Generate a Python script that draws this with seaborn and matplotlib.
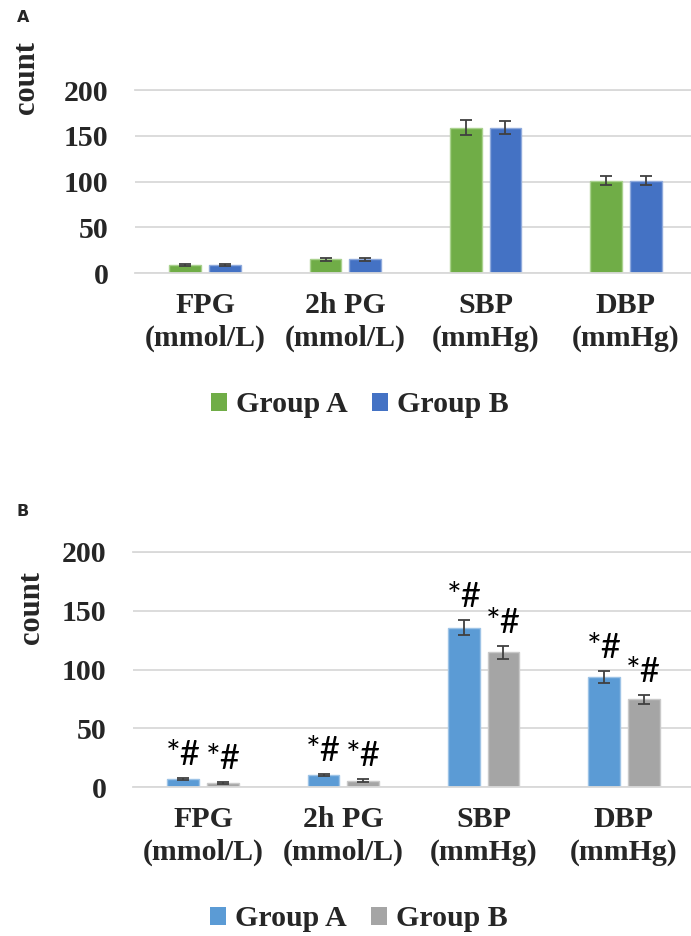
import pandas as pd
import matplotlib.pyplot as plt
import seaborn as sns

# values (mean and error bar half-length)
categories = ['FPG\n(mmol/L)', '2h PG\n(mmol/L)', 'SBP\n(mmHg)', 'DBP\n(mmHg)']
groups = ['Group A', 'Group B']

before_a = [9, 15, 159, 101]
before_a_err = [1, 1.5, 8, 5]
before_b = [9, 15, 159, 101]
before_b_err = [1, 1.5, 7.5, 5]

after_a = [7, 10, 135.5, 93.5]
after_a_err = [1, 1, 6.5, 5]
after_b = [3.2, 5.5, 114.5, 74.5]
after_b_err = [1, 1, 5.5, 4]

yticks = [0, 50, 100, 150, 200]
marks = '*#'

SERIF = 'Liberation Serif'
GRID = '#D9D9D9'


def make_df(vals_a, vals_b):
    return pd.DataFrame({
        'cat': categories * 2,
        'group': [groups[0]] * 4 + [groups[1]] * 4,
        'value': list(vals_a) + list(vals_b),
    })


def draw_panel(fig, rect, vals_a, err_a, vals_b, err_b, colors, edges,
               legend_xy, count_xy, letter, letter_xy, annotate=False):
    ax = fig.add_axes(rect)
    df = make_df(vals_a, vals_b)
    sns.barplot(data=df, x='cat', y='value', hue='group', palette=colors,
                saturation=1, width=0.565, gap=0.2, errorbar=None, ax=ax,
                legend=False)
    # error bars on top of each bar
    for cont, errs, ec in zip(ax.containers, [err_a, err_b], edges):
        for bar, e in zip(cont, errs):
            bar.set_edgecolor(ec)
            bar.set_linewidth(1.0)
            xc = bar.get_x() + bar.get_width() / 2
            h = bar.get_height()
            ax.errorbar(xc, h, yerr=e, color='#404040', capsize=4.5,
                        capthick=1.3, elinewidth=1.3, zorder=5)
            if annotate:
                ax.annotate(marks, (xc, h + e), xytext=(0, 5),
                            textcoords='offset points', ha='center',
                            va='bottom', fontsize=25, family='Lato',
                            color='black')
    ax.set_ylim(0, 200)
    ax.set_xlim(-0.5, 3.5)
    ax.set_yticks(yticks)
    ax.set_axisbelow(True)
    ax.grid(axis='y', color=GRID, linewidth=1.3)
    ax.grid(axis='x', visible=False)
    for s in ['left', 'right']:
        ax.spines[s].set_visible(False)
    for s in ['top', 'bottom']:
        ax.spines[s].set_color(GRID)
        ax.spines[s].set_linewidth(1.3)
    ax.tick_params(axis='both', length=0)
    ax.tick_params(axis='y', pad=19)
    ax.tick_params(axis='x', pad=14)
    ax.set_xlabel('')
    ax.set_ylabel('')
    for lab in ax.get_yticklabels() + ax.get_xticklabels():
        lab.set_family(SERIF)
        lab.set_fontweight('bold')
        lab.set_fontsize(21.5)
    for lab in ax.get_xticklabels():
        lab.set_linespacing(1.25)

    handles = [plt.Rectangle((0, 0), 1, 1, facecolor=c, edgecolor='none') for c in colors]
    ax.legend(handles, groups, loc='center', bbox_to_anchor=legend_xy,
              bbox_transform=fig.transFigure, ncol=2, frameon=False,
              prop={'family': SERIF, 'weight': 'bold', 'size': 21.5},
              handlelength=0.55, handleheight=0.55, handletextpad=0.3,
              columnspacing=0.8)

    fig.text(count_xy[0], count_xy[1], 'count', rotation=90, ha='center',
             va='center', family=SERIF, fontweight='bold', fontsize=22)
    fig.text(letter_xy[0], letter_xy[1], letter, ha='left', va='center',
             family='DejaVu Sans', fontweight='bold', fontsize=11.5)
    return ax


sns.set_style('white')
fig = plt.figure(figsize=(6.91, 9.36), dpi=100)
W, H = 691, 936

draw_panel(fig, [135 / W, 1 - 273 / H, 561 / W, 183 / H],
           before_a, before_a_err, before_b, before_b_err,
           ['#70AD47', '#4472C4'], ['#A9D18E', '#8FAADC'],
           (360 / W, 1 - 405 / H), (27 / W, 1 - 78 / H),
           'A', (17 / W, 1 - 17 / H))

draw_panel(fig, [133 / W, 1 - 787 / H, 561 / W, 235 / H],
           after_a, after_a_err, after_b, after_b_err,
           ['#5B9BD5', '#A5A5A5'], ['#9DC3E6', '#C9C9C9'],
           (359 / W, 1 - 919 / H), (31 / W, 1 - 607 / H),
           'B', (17 / W, 1 - 511 / H), annotate=True)

fig.savefig('out.png', dpi=100)
print("Saved out.png")
